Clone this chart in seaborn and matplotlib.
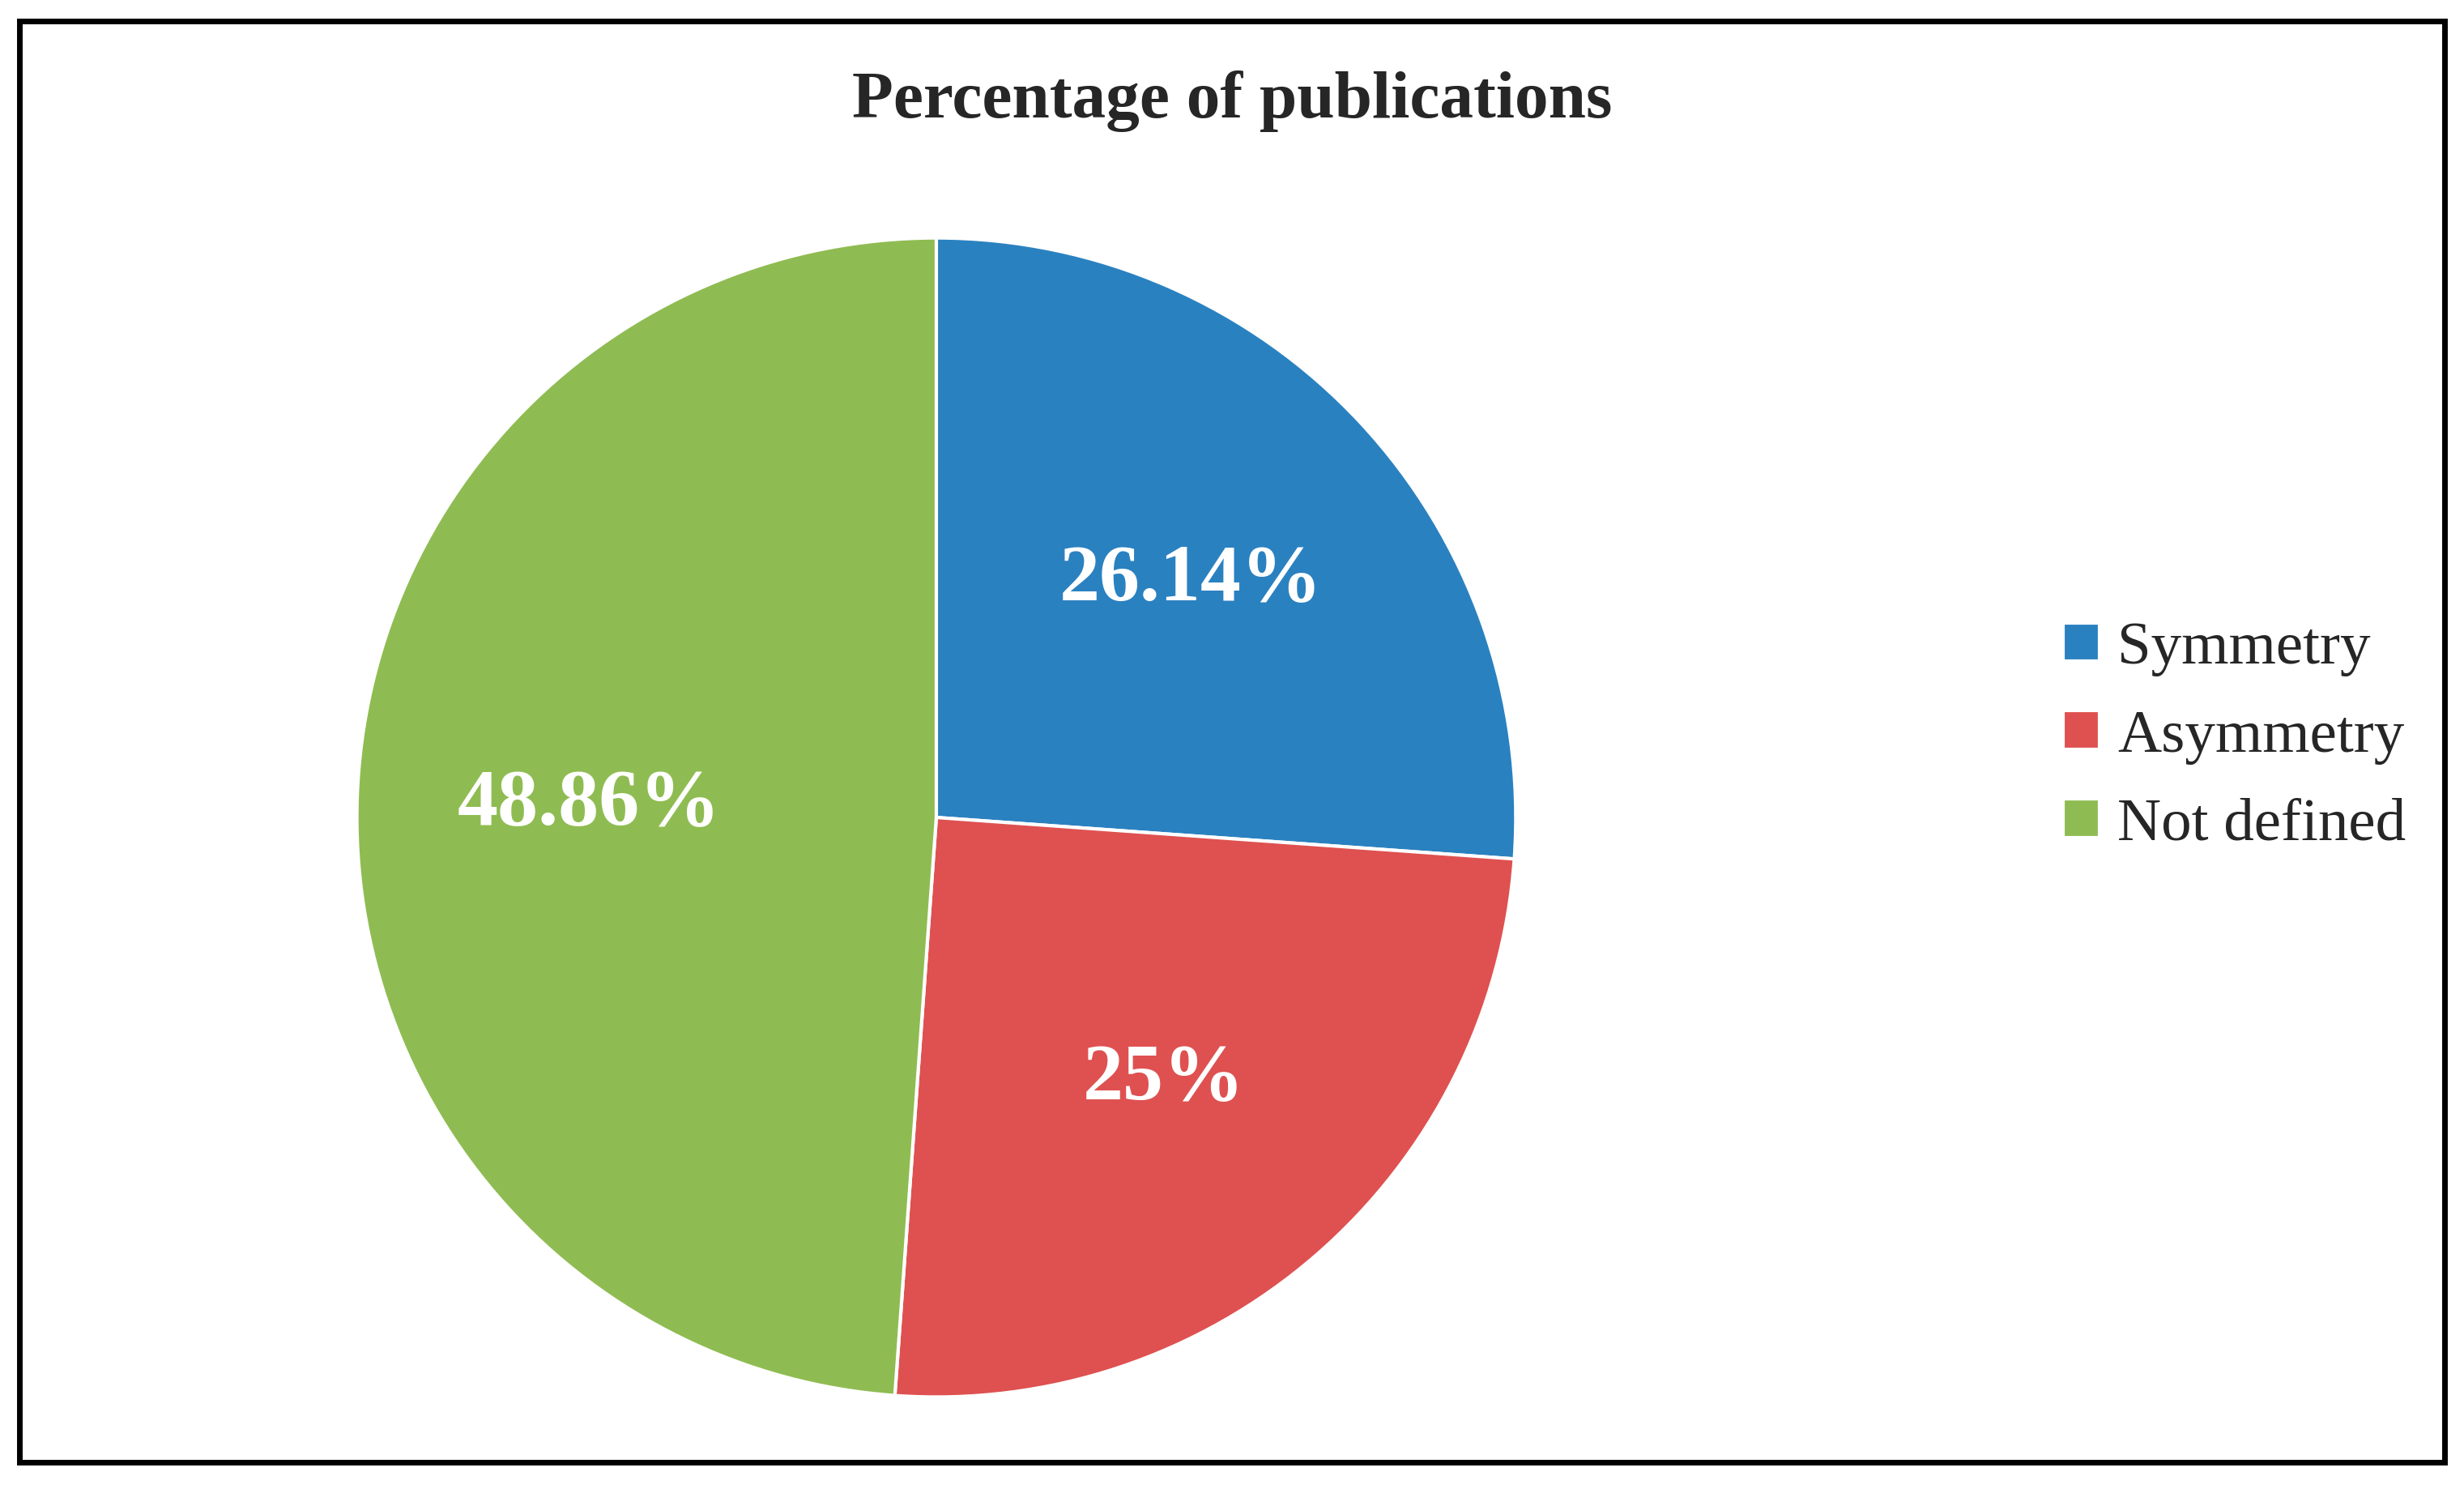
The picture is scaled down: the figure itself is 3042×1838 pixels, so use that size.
import matplotlib
matplotlib.use("Agg")
import matplotlib.pyplot as plt
import seaborn as sns
from matplotlib.patches import Rectangle

sns.set_theme(style="white")
plt.rcParams['font.family'] = ['Liberation Serif', 'DejaVu Serif']

categories = ["Symmetry", "Asymmetry", "Not defined"]
values = [26.14, 25.0, 48.86]
value_labels = ["26.14%", "25%", "48.86%"]
colors = ["#2A81C0", "#DE5150", "#8FBC52"]

fig = plt.figure(figsize=(15.21, 9.19), dpi=200)
ax = fig.add_axes([0.140, 0.054, 0.480, 0.794])
wedges, _ = ax.pie(values, colors=colors, startangle=90, counterclock=False,
                   wedgeprops=dict(edgecolor="white", linewidth=1.5))
for w, lab in zip(wedges, value_labels):
    import numpy as np
    ang = np.deg2rad((w.theta1 + w.theta2) / 2)
    r = 0.6
    ax.text(r*np.cos(ang), r*np.sin(ang), lab, ha="center", va="center",
            color="white", fontsize=36, fontweight="bold")
ax.set_xlim(-1.02, 1.02); ax.set_ylim(-1.02, 1.02)
ax.set_aspect("equal")
ax.axis("off")

fig.text(0.50, 0.932, "Percentage of publications", ha="center", va="center",
         fontsize=30, fontweight="bold")

fig.legend(wedges, categories, loc="center left", bbox_to_anchor=(0.815, 0.505),
           frameon=False, fontsize=27, handlelength=0.6, handleheight=0.6,
           handletextpad=0.3, labelspacing=0.55)

fig.patches.append(Rectangle((0.008, 0.018), 0.984, 0.968, transform=fig.transFigure,
                             fill=False, edgecolor="black", linewidth=2.5))
fig.savefig("out.png", dpi=200, facecolor="white")
